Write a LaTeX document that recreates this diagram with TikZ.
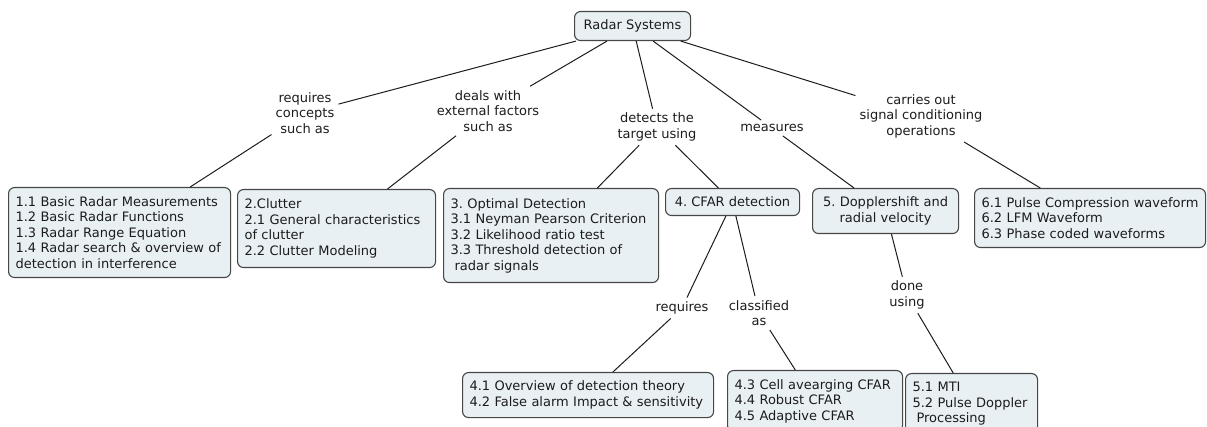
\documentclass[tikz,border=0pt]{standalone}
\usepackage{fontspec}
\setmainfont{DejaVu Sans}
\usepackage{xcolor}
\definecolor{boxfill}{RGB}{233,240,244}
\definecolor{boxline}{RGB}{70,70,70}
\definecolor{inkgray}{RGB}{28,28,28}
\frenchspacing

\begin{document}
\begin{tikzpicture}[x=1pt,y=-1pt,
    concept/.style={draw=boxline, fill=boxfill, rounded corners=6pt, line width=1.1pt,
        anchor=north west, inner xsep=7pt, inner ysep=0pt, align=left, text=inkgray,
        font=\fontsize{13}{15.5}\selectfont},
    link/.style={inner sep=4pt, align=center, text=inkgray,
        font=\fontsize{13}{15.5}\selectfont},
    conn/.style={draw=inkgray, line width=1pt}]
        % Frame
        \useasboundingbox (0,0) rectangle (1207,427);
        \clip (0,0) rectangle (1207,427);
        % Concepts
        \node[concept, align=center, minimum width=116pt, minimum height=29pt] (root) at (574,11) {Radar Systems};
        \node[concept, text width=208pt, minimum height=90pt] (basics) at (8,187)
            {1.1 Basic Radar Measurements\\1.2 Basic Radar Functions\\1.3 Radar Range Equation\\1.4 Radar search \& overview of\\detection in interference};
        \node[concept, text width=184pt, minimum height=78pt] (clutter) at (237,189)
            {2.Clutter\\2.1 General characteristics\\of clutter\\2.2 Clutter Modeling};
        \node[concept, text width=201pt, minimum height=94pt] (optimal) at (443,188)
            {3. Optimal Detection\\3.1 Neyman Pearson Criterion\\3.2 Likelihood ratio test\\3.3 Threshold detection of\\\hspace*{4pt}radar signals};
        \node[concept, align=center, inner xsep=2pt, minimum width=134pt, minimum height=27pt] (cfar) at (665,188) {4. CFAR detection};
        \node[concept, align=center, text width=132pt, minimum height=45pt] (doppler) at (812,188)
            {5. Dopplershift and\\radial velocity};
        \node[concept, text width=217pt, minimum height=59pt] (waveform) at (974,188)
            {6.1 Pulse Compression waveform\\6.2 LFM Waveform\\6.3 Phase coded waveforms};
        \node[concept, text width=237pt, minimum height=45pt] (theory) at (462,372)
            {4.1 Overview of detection theory\\4.2 False alarm Impact \& sensitivity};
        \node[concept, text width=161pt, minimum height=61pt] (kinds) at (727,370)
            {4.3 Cell avearging CFAR\\4.4 Robust CFAR\\4.5 Adaptive CFAR};
        \node[concept, text width=118pt, minimum height=61pt] (mti) at (905,373)
            {5.1 MTI\\5.2 Pulse Doppler\\\hspace*{4pt}Processing};
        % Linking phrases
        \node[link] (needs) at (305,113) {requires\\concepts\\such as};
        \node[link] (deals) at (488,111) {deals with\\external factors\\such as};
        \node[link] (detects) at (657,127) {detects the\\target using};
        \node[link] (measures) at (772,128) {measures};
        \node[link] (carries) at (921,116) {carries out\\signal conditioning\\operations};
        \node[link] (requires) at (682,308) {requires};
        \node[link] (classed) at (759,313) {classified\\as};
        \node[link] (doneby) at (907,295) {done\\using};
        % Connections
        \draw[conn] (root) -- (needs) -- (basics);
        \draw[conn] (root) -- (deals) -- (clutter);
        \draw[conn] (root) -- (detects) -- (optimal);
        \draw[conn] (detects) -- (cfar);
        \draw[conn] (root) -- (measures) -- (doppler);
        \draw[conn] (root) -- (carries) -- (waveform);
        \draw[conn] (cfar) -- (requires) -- (theory);
        \draw[conn] (cfar) -- (classed) -- (kinds);
        \draw[conn] (doppler) -- (doneby) -- (mti);
\end{tikzpicture}
\end{document}
